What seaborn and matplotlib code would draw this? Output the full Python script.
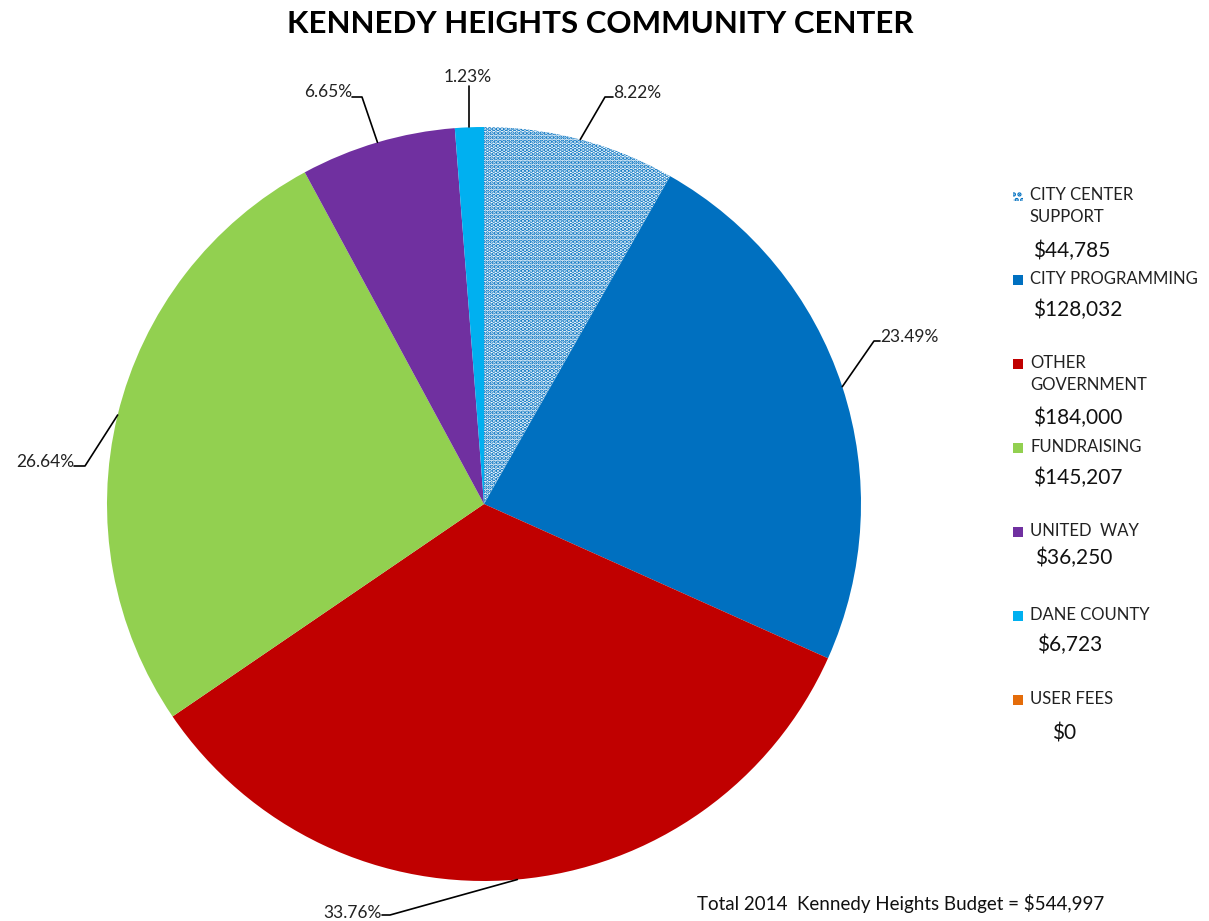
import matplotlib
matplotlib.use("Agg")
import matplotlib.pyplot as plt
from matplotlib.patches import Rectangle
import numpy as np
import seaborn as sns

# budget sources, 2014
sources = ["CITY CENTER\nSUPPORT", "CITY PROGRAMMING", "OTHER\nGOVERNMENT",
           "FUNDRAISING", "UNITED  WAY", "DANE COUNTY", "USER FEES"]
amounts = [44785, 128032, 184000, 145207, 36250, 6723, 0]
colors = ["#0070C0", "#0070C0", "#C00000", "#92D050", "#7030A0", "#00B0F0", "#E46C0A"]

sns.set_style("white")
plt.rcParams["font.family"] = ["Lato", "DejaVu Sans"]
plt.rcParams["hatch.linewidth"] = 2.2

W, H = 1209, 921
fig = plt.figure(figsize=(W / 100, H / 100), dpi=100)

# pie centre (484, 504) px, radius 377 px
cx, cy, r = 484, 504, 377
ax = fig.add_axes([(cx - r) / W, (H - cy - r) / H, 2 * r / W, 2 * r / H])
pal = sns.color_palette(colors)
wedges, _ = ax.pie(amounts, colors=pal, startangle=90, counterclock=False,
                   radius=1, wedgeprops=dict(linewidth=0))
ax.set_xlim(-1, 1)
ax.set_ylim(-1, 1)
ax.set_aspect("equal")
ax.axis("off")

# dotted slice
w0 = wedges[0]
w0.set_facecolor("white")
w0.set_edgecolor("#0070C0")
w0.set_hatch("....")
w0.set_linewidth(0)

total = sum(amounts)


def px(x, y):
    return (x - cx) / r, (cy - y) / r


# leader lines: elbow point (px) and text end point (px), alignment
label_layout = [
    ((605, 97), (613, 93), "left"),
    ((874, 341), (880, 337), "left"),
    ((390, 915), (382, 913), "right"),
    ((85, 466), (74, 462), "right"),
    ((362, 97), (352, 92), "right"),
    ((470, 86), (468, 77), "center"),
]

for i, (elbow, tpos, ha) in enumerate(label_layout):
    w = wedges[i]
    theta = np.deg2rad((w.theta1 + w.theta2) / 2)
    ax0, ay0 = np.cos(theta), np.sin(theta)
    ex, ey = px(*elbow)
    tx, ty = px(*tpos)
    if ha == "center":
        ax.plot([ax0, ax0], [ay0, ey], color="black", lw=1.2, clip_on=False)
    else:
        ax.plot([ax0, ex, tx], [ay0, ey, ey], color="black", lw=1.2, clip_on=False)
    pct = amounts[i] / total * 100
    ax.text(tx, ty, f"{pct:.2f}%", ha=ha, va="center", fontsize=12.5,
            color="#222222", clip_on=False)

# legend drawn by hand
leg_y0, leg_step = 196, 84
amt_dy = [55, 30, 54, 30, 26, 29, 33]
amt_x = [1033, 1033, 1033, 1033, 1035, 1037, 1052]
for i, (name, val) in enumerate(zip(sources, amounts)):
    y = leg_y0 + leg_step * i
    rect = Rectangle((1013 / W, 1 - (y + 5) / H), 10 / W, 10 / H,
                     transform=fig.transFigure, facecolor=colors[i],
                     edgecolor="none", linewidth=0)
    if i == 0:
        rect.set_facecolor("white")
        rect.set_edgecolor("#0070C0")
        rect.set_hatch("...")
    fig.add_artist(rect)
    fig.text(1030 / W, 1 - (y - 9) / H, name, ha="left", va="top", fontsize=12,
             color="#222222", linespacing=1.45)
    fig.text(amt_x[i] / W, 1 - (y + amt_dy[i]) / H, f"${val:,}", ha="left",
             va="center", fontsize=15, color="#111111")

fig.text(600 / W, 1 - 24 / H, "KENNEDY HEIGHTS COMMUNITY CENTER", ha="center",
         va="center", fontsize=22.5, fontweight="bold", color="black")
fig.text(697 / W, 1 - 903 / H, "Total 2014  Kennedy Heights Budget = $544,997",
         ha="left", va="center", fontsize=13.5, color="#111111")

fig.savefig("out.png", dpi=100, facecolor="white")
